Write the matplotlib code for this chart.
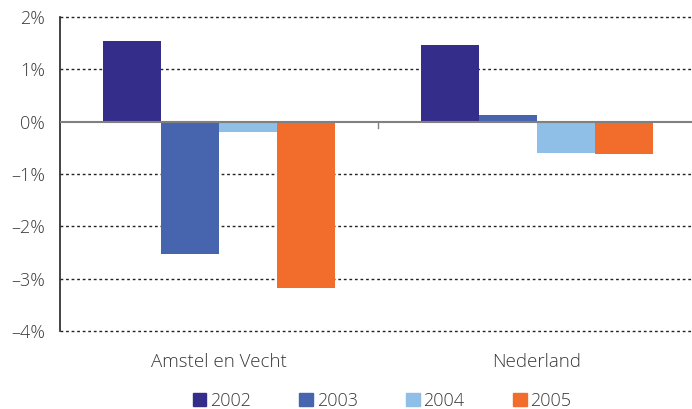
import matplotlib
matplotlib.use('Agg')
import numpy as np
import matplotlib.pyplot as plt
from matplotlib.patches import Patch

categories = ['Amstel en Vecht', 'Nederland']
years = ['2002', '2003', '2004', '2005']
v2002 = [1.55, 1.47]
v2003 = [-2.53, 0.13]
v2004 = [-0.20, -0.59]
v2005 = [-3.17, -0.61]
series = [v2002, v2003, v2004, v2005]
colors = ['#352d8a', '#4764ae', '#8fbfe6', '#f26d2b']

plt.rcParams['font.family'] = ['Open Sans', 'DejaVu Sans']
plt.rcParams['font.weight'] = 'light'
txt = '#3a3a3a'

fig = plt.figure(figsize=(6.92, 4.09), dpi=100)
ax = fig.add_axes([60/692, 1 - 331/409, 632/692, (331 - 17)/409])

ind = np.arange(len(categories))
width = 0.1824
for i, (vals, c) in enumerate(zip(series, colors)):
    ax.bar(ind + (i - 1.5) * width, vals, width, color=c, zorder=3)

ax.set_ylim(-4, 2)
ax.set_xlim(-0.5, 1.4875)
ax.set_yticks(np.arange(-4, 2.1, 1))
ax.set_yticklabels(['{:.0f}%'.format(t).replace('-', '\u2013') for t in ax.get_yticks()],
                   fontsize=13, color=txt)
for t in [-4, -3, -2, -1, 1, 2]:
    ax.axhline(t, color='#222222', linestyle=(0, (2, 2)), linewidth=1.0, zorder=1, clip_on=False)
ax.axhline(0, color='#808080', linewidth=1.5, zorder=4)

ax.set_xticks([])
for sp in ['top', 'right', 'bottom']:
    ax.spines[sp].set_visible(False)
ax.spines['left'].set_color('#222222')
ax.spines['left'].set_linewidth(1.2)
ax.tick_params(axis='y', length=0, pad=11)

# category labels and separator tick
for x, lab in zip(ind, categories):
    ax.text(x, -4.6, lab, ha='center', va='center', fontsize=13.5, color=txt)
ax.plot([0.5, 0.5], [0, -0.12], color='#808080', linewidth=1, zorder=4)

handles = [Patch(color=c) for c in colors]
fig.legend(handles, years, loc='center', bbox_to_anchor=(382/692, 1 - 401/409),
           ncol=4, frameon=False, fontsize=13, handlelength=0.75, handleheight=0.75,
           columnspacing=2.7, handletextpad=0.2, labelcolor=txt)

plt.savefig('out.png', dpi=100)
